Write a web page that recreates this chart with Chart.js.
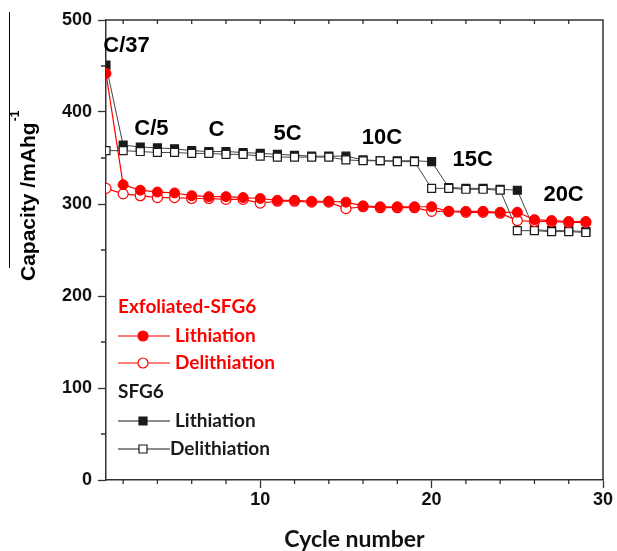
<!DOCTYPE html>
<html>
<head>
<meta charset="utf-8">
<script src="https://cdn.jsdelivr.net/npm/chart.js@4.4.1/dist/chart.umd.min.js"></script>
<style>
  html, body { margin: 0; padding: 0; background: #fff; }
</style>
</head>
<body>
<canvas id="chart" width="617" height="551"></canvas>
<script>
const cycles = [1,2,3,4,5,6,7,8,9,10,11,12,13,14,15,16,17,18,19,20,21,22,23,24,25,26,27,28,29];
// Exfoliated-SFG6
const exfLith   = [442,321,315,313,312,309,308,308,307,306,304,304,303,303,302,298,297,297,297,297,292,292,292,291,291,283,282,281,281];
const exfDelith = [317,311,309,307,307,306,306,305,305,301,303,303,302,302,295,297,296,296,296,292,292,291,291,290,282,281,281,280,280];
// SFG6
const sfgLith   = [451,364,362,361,360,358,357,357,356,355,354,353,352,352,352,348,347,347,347,346,318,317,317,316,315,272,271,271,270];
const sfgDelith = [358,358,357,356,356,355,355,354,354,352,351,351,351,351,348,347,347,346,346,317,317,316,316,315,271,271,270,270,269];

const xTicks = [2,4,6,8,10,12,14,16,18,20,22,24,26,28,30];
const yTicks = [0,50,100,150,200,250,300,350,400,450,500];
const rateLabels = ['C/37','C/5','C','5C','10C','15C','20C'];
const rateAt = [[2.2,472],[3.65,382],[7.45,380],[11.6,376],[17.1,372],[22.4,348],[27.7,310]];

const RED = '#ff0000';
const INK = '#1a1a1a';
const tickFont = { family: 'Liberation Sans', weight: 'bold', size: 18 };

const extras = {
    id: 'extras',
    afterDraw(chart) {
        const { ctx, chartArea: a, scales: { x, y } } = chart;
        ctx.save();
        // frame top + right
        ctx.strokeStyle = '#333';
        ctx.lineWidth = 1.5;
        ctx.beginPath();
        ctx.moveTo(a.left, a.top);
        ctx.lineTo(a.right, a.top);
        ctx.lineTo(a.right, a.bottom);
        ctx.stroke();

        // minor ticks
        ctx.lineWidth = 1.3;
        ctx.beginPath();
        xTicks.forEach(v => {
            const px = x.getPixelForValue(v);
            if (v % 10) {
                ctx.moveTo(px, a.bottom);
                ctx.lineTo(px, a.bottom + 4);
            }
            if (v < 30) {
                ctx.moveTo(px, a.top);
                ctx.lineTo(px, a.top + 4);
            }
        });
        yTicks.forEach(v => {
            if (v % 100) {
                const py = y.getPixelForValue(v);
                ctx.moveTo(a.left, py);
                ctx.lineTo(a.left - 5, py);
            }
        });
        ctx.stroke();

        // rate labels
        ctx.fillStyle = '#000';
        ctx.font = 'bold 22px "Liberation Sans"';
        ctx.textAlign = 'center';
        ctx.textBaseline = 'middle';
        rateLabels.forEach((t, i) => {
            ctx.fillText(t, x.getPixelForValue(rateAt[i][0]), y.getPixelForValue(rateAt[i][1]));
        });

        // y title
        ctx.save();
        ctx.translate(29, 281);
        ctx.rotate(-Math.PI / 2);
        ctx.textAlign = 'left';
        ctx.font = 'bold 21px "Liberation Sans"';
        const t = 'Capacity /mAhg';
        ctx.fillText(t, 0, 0);
        const w = ctx.measureText(t).width;
        ctx.font = 'bold 12px "Liberation Sans"';
        ctx.fillText('-1', w + 1, -13);
        ctx.restore();
        ctx.strokeStyle = '#000';
        ctx.lineWidth = 1;
        ctx.beginPath();
        ctx.moveTo(9.5, 12);
        ctx.lineTo(9.5, 268);
        ctx.stroke();

        // legend
        const lx = 118;
        ctx.textAlign = 'left';
        ctx.font = 'bold 19px Lato';
        ctx.fillStyle = RED;
        ctx.fillText('Exfoliated-SFG6', lx, 307);
        ctx.fillStyle = INK;
        ctx.fillText('SFG6', lx, 392);

        const row = (yy, color, kind, label, tx) => {
            ctx.strokeStyle = color;
            ctx.lineWidth = kind === 'circle' || kind === 'ocircle' ? 1.2 : 1;
            ctx.beginPath();
            ctx.moveTo(lx, yy);
            ctx.lineTo(lx + 52, yy);
            ctx.stroke();
            ctx.beginPath();
            if (kind === 'circle' || kind === 'ocircle') {
                ctx.arc(lx + 25, yy, 5, 0, Math.PI * 2);
            } else {
                ctx.rect(lx + 21, yy - 4, 8, 8);
            }
            ctx.fillStyle = (kind === 'circle') ? RED : (kind === 'square' ? INK : '#fff');
            ctx.fill();
            ctx.lineWidth = 1.2;
            ctx.stroke();
            ctx.fillStyle = color === RED ? RED : INK;
            ctx.font = 'bold 19px Lato';
            ctx.fillText(label, tx, yy);
        };
        row(336, RED, 'circle', 'Lithiation', 175);
        row(363, RED, 'ocircle', 'Delithiation', 175);
        row(421, INK, 'square', 'Lithiation', 175);
        row(449, INK, 'osquare', 'Delithiation', 170);
        ctx.restore();
    }
};

const ctx = document.getElementById('chart').getContext('2d');

new Chart(ctx, {
    type: 'line',
    data: {
        labels: cycles,
        datasets: [
            {
                label: 'Exfoliated-SFG6 Lithiation',
                data: exfLith,
                borderColor: RED,
                backgroundColor: RED,
                borderWidth: 1.2,
                pointStyle: 'circle',
                pointRadius: 5,
                pointBackgroundColor: RED,
                pointBorderColor: RED,
                pointBorderWidth: 1
            },
            {
                label: 'Exfoliated-SFG6 Delithiation',
                data: exfDelith,
                borderColor: RED,
                backgroundColor: '#fff',
                borderWidth: 1.2,
                pointStyle: 'circle',
                pointRadius: 5,
                pointBackgroundColor: '#fff',
                pointBorderColor: RED,
                pointBorderWidth: 1.2
            },
            {
                label: 'SFG6 Delithiation',
                data: sfgDelith,
                borderColor: '#444',
                backgroundColor: '#fff',
                borderWidth: 1,
                pointStyle: 'rect',
                pointRadius: 5.6,
                pointBackgroundColor: '#fff',
                pointBorderColor: INK,
                pointBorderWidth: 1.2
            },
            {
                label: 'SFG6 Lithiation',
                data: sfgLith,
                borderColor: '#444',
                backgroundColor: INK,
                borderWidth: 1,
                pointStyle: 'rect',
                pointRadius: 5.6,
                pointBackgroundColor: INK,
                pointBorderColor: INK,
                pointBorderWidth: 1.2
            }
        ].map(d => ({ ...d, data: d.data.map((v, i) => ({ x: cycles[i], y: v })), tension: 0, fill: false }))
    },
    options: {
        responsive: false,
        devicePixelRatio: 1,
        animation: false,
        layout: { padding: { left: 0, right: 14, top: 20, bottom: 0 } },
        plugins: {
            legend: { display: false },
            tooltip: { enabled: false },
            title: { display: false }
        },
        scales: {
            x: {
                type: 'linear',
                min: 1,
                max: 30,
                afterBuildTicks: s => { s.ticks = xTicks.map(v => ({ value: v })); },
                afterFit: s => { s.height = 71; },
                border: { display: true, color: '#333', width: 1.5 },
                grid: {
                    drawOnChartArea: false,
                    tickLength: 8,
                    tickWidth: 1.3,
                    tickColor: c => (c.tick && c.tick.value % 10 === 0) ? '#333' : 'transparent'
                },
                ticks: {
                    autoSkip: false,
                    maxRotation: 0,
                    padding: 1,
                    color: '#111',
                    font: tickFont,
                    callback: v => v % 10 === 0 ? v : ''
                },
                title: {
                    display: true,
                    text: 'Cycle number',
                    color: '#111',
                    font: { family: 'Lato', weight: 'bold', size: 23, lineHeight: 1 },
                    padding: { top: 0, bottom: 0 }
                }
            },
            y: {
                min: 0,
                max: 500,
                afterBuildTicks: s => { s.ticks = yTicks.map(v => ({ value: v })); },
                afterFit: s => { s.width = 106; },
                border: { display: true, color: '#333', width: 1.5 },
                grid: {
                    drawOnChartArea: false,
                    tickLength: 8,
                    tickWidth: 1.3,
                    tickColor: c => (c.tick && c.tick.value % 100 === 0) ? '#333' : 'transparent'
                },
                ticks: {
                    autoSkip: false,
                    padding: 6,
                    color: '#111',
                    font: tickFont,
                    callback: v => v % 100 === 0 ? v : ''
                }
            }
        }
    },
    plugins: [extras]
});
</script>
</body>
</html>
